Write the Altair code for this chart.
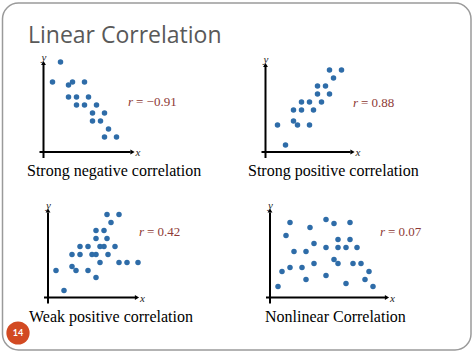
import altair as alt
import pandas as pd

# ---- data (arbitrary units, origin at the axes corner) ----
P1_X = [17, 9, 25, 29, 41, 25, 33, 45, 33, 41, 53, 49, 61, 49, 57, 65, 61, 73]
P1_Y = [90, 70, 67, 70, 70, 55, 55, 55, 47, 47, 47, 39, 39, 31, 31, 23, 15, 15]

P2_X = [12, 20, 28, 32, 44, 28, 36, 48, 36, 44, 56, 52, 64, 52, 60, 68, 64, 76]
P2_Y = [27, 7, 31, 27, 27, 42, 42, 42, 50, 50, 50, 58, 58, 66, 66, 74, 82, 82]

P3_X = [8, 16, 24, 32, 24, 28, 32, 40, 40, 44, 48, 48, 56, 48, 59, 52, 56, 67,
        60, 52, 48, 59, 71, 63, 71, 79, 90]
P3_Y = [27, 7, 43, 43, 31, 27, 51, 51, 27, 43, 43, 67, 67, 59, 59, 51, 51, 51,
        43, 35, 20, 83, 83, 75, 35, 35, 35]

P4_X = [8, 12, 16, 20, 20, 24, 32, 36, 36, 40, 44, 44, 56, 64, 56, 56, 64, 68,
        68, 68, 76, 76, 80, 80, 87, 83, 91, 99, 95, 103]
P4_Y = [11, 26, 62, 75, 30, 46, 30, 46, 18, 70, 54, 34, 78, 74, 50, 22, 38, 58,
        50, 34, 50, 14, 75, 58, 50, 34, 34, 26, 18, 11]

R_VALUES = ["= \u22120.91", "= 0.88", "= 0.42", "= 0.07"]
CAPTIONS = ["Strong negative correlation", "Strong positive correlation",
            "Weak positive correlation", "Nonlinear Correlation"]
TITLE = "Linear Correlation"
PAGE = "14"

BLUE = "#2E6CA8"
RED = "#8E3A36"
SERIF = "Liberation Serif"

# panel geometry: origin px (ox, oy), x-axis length, y-axis length
GEOM = [
    dict(ox=43.5, oy=152, L=89, H=89, rx=128, ry=106, cx=27, cy=176),
    dict(ox=265.5, oy=152, L=87, H=87, rx=353, ry=107, cx=248, cy=176),
    dict(ox=48, oy=297.5, L=89, H=87, rx=139, ry=236, cx=29, cy=322),
    dict(ox=270, oy=297.5, L=117, H=87, rx=380, ry=236, cx=265, cy=322),
]

one = pd.DataFrame({"k": [0]})


def panel(xs, ys, g):
    sx = alt.Scale(domain=[0, 100], range=[g["ox"], g["ox"] + 100])
    sy = alt.Scale(domain=[0, 100], range=[g["oy"], g["oy"] - 100])
    X = lambda f: alt.X(f, type="quantitative", scale=sx, axis=None)
    Y = lambda f: alt.Y(f, type="quantitative", scale=sy, axis=None)

    pts = alt.Chart(pd.DataFrame({"x": xs, "y": ys})).mark_circle(
        size=30, color=BLUE, opacity=1
    ).encode(x=X("x"), y=Y("y"))

    axes_df = pd.DataFrame({"x": [-4, 0], "x2": [g["L"] - 2, 0],
                            "y": [0, -6], "y2": [0, g["H"] - 2]})
    rules = alt.Chart(axes_df).mark_rule(color="black", strokeWidth=2).encode(
        x=X("x"), x2="x2", y=Y("y"), y2="y2")

    heads_df = pd.DataFrame({"x": [g["L"], 0], "y": [0, g["H"]],
                             "s": ["triangle-right", "triangle-up"]})
    heads = alt.Chart(heads_df).mark_point(
        filled=True, color="black", size=24, opacity=1
    ).encode(x=X("x"), y=Y("y"), shape=alt.Shape("s:N", scale=None))

    lab_df = pd.DataFrame({"x": [g["L"] + 3, -2], "y": [-1, g["H"] + 5],
                           "t": ["x", "y"]})
    labs = alt.Chart(lab_df).mark_text(
        font=SERIF, fontStyle="italic", fontSize=11, color="#222", baseline="middle",
        align="left"
    ).encode(x=X("x"), y=Y("y"), text="t:N")
    return alt.layer(rules, heads, pts, labs)


layers = []
frame = alt.Chart(one).mark_rect(
    cornerRadius=16, fill="white", stroke="#9a9a9a", strokeWidth=1.5
).encode(x=alt.value(2.5), x2=alt.value(471), y=alt.value(3), y2=alt.value(350))
layers.append(frame)

title = alt.Chart(one).mark_text(
    text=TITLE, font="Open Sans", fontSize=23, color="#595959", align="left",
    baseline="alphabetic"
).encode(x=alt.value(28), y=alt.value(43))
layers.append(title)

circle = alt.Chart(one).mark_point(
    shape="circle", filled=True, color="#D24A22", size=540, opacity=1
).encode(x=alt.value(18), y=alt.value(333))
num = alt.Chart(one).mark_text(
    text=PAGE, font="Lato", fontSize=9, color="white", fontWeight="bold"
).encode(x=alt.value(18), y=alt.value(336))
layers += [circle, num]

for xs, ys, g, rv, cap in zip([P1_X, P2_X, P3_X, P4_X], [P1_Y, P2_Y, P3_Y, P4_Y],
                              GEOM, R_VALUES, CAPTIONS):
    layers.append(panel(xs, ys, g))
    layers.append(alt.Chart(one).mark_text(
        text="r", font=SERIF, fontStyle="italic", fontSize=13, color=RED,
        align="left").encode(x=alt.value(g["rx"]), y=alt.value(g["ry"])))
    layers.append(alt.Chart(one).mark_text(
        text=rv, font=SERIF, fontSize=13, color=RED,
        align="left").encode(x=alt.value(g["rx"] + 8), y=alt.value(g["ry"])))
    layers.append(alt.Chart(one).mark_text(
        text=cap, font=SERIF, fontSize=16, color="black",
        align="left").encode(x=alt.value(g["cx"]), y=alt.value(g["cy"])))

chart = alt.layer(*layers).resolve_scale(x="independent", y="independent").properties(
    width=474, height=355, autosize=alt.AutoSizeParams(type="none"), padding=0,
    background="white"
).configure_view(stroke=None).configure_text(baseline="alphabetic")

chart.save("out.html", embed_options={"renderer": "svg", "actions": False})
